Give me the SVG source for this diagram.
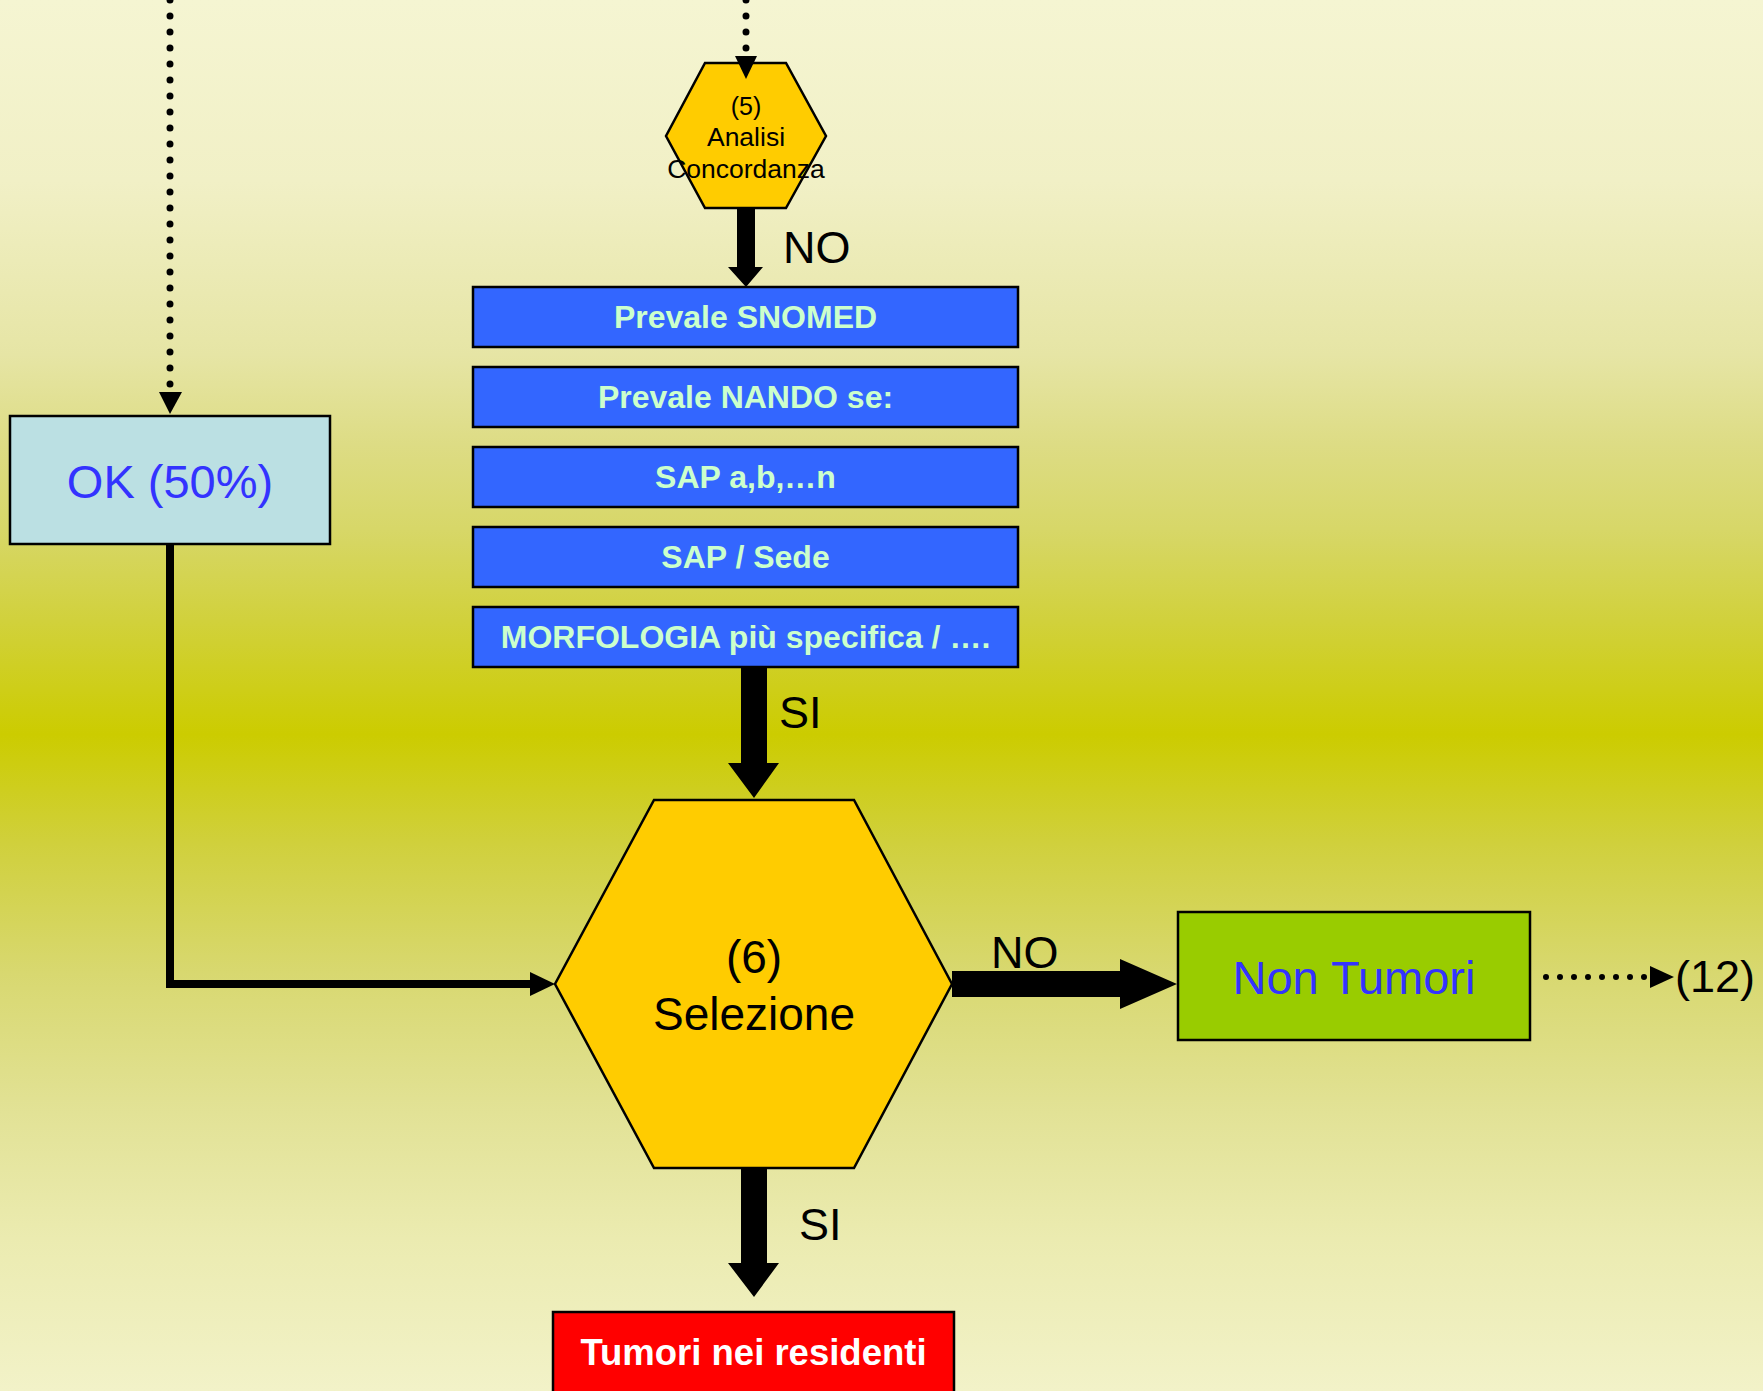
<svg xmlns="http://www.w3.org/2000/svg" width="1763" height="1391" viewBox="0 0 1763 1391">
<defs>
<linearGradient id="bg" x1="0" y1="0" x2="0" y2="1">
<stop offset="0" stop-color="#f5f5d2"/>
<stop offset="0.13" stop-color="#f1f0c6"/>
<stop offset="0.255" stop-color="#e6e5a5"/>
<stop offset="0.32" stop-color="#dddc84"/>
<stop offset="0.38" stop-color="#d7d768"/>
<stop offset="0.446" stop-color="#d1d13c"/>
<stop offset="0.528" stop-color="#cccc00"/>
<stop offset="0.606" stop-color="#d0d03c"/>
<stop offset="0.70" stop-color="#d8d870"/>
<stop offset="0.80" stop-color="#e2e296"/>
<stop offset="0.89" stop-color="#ebebb0"/>
<stop offset="1" stop-color="#f2f2c8"/>
</linearGradient>
<style>
.sans{font-family:"Liberation Sans",Arial,sans-serif}
.blue rect{fill:#3366ff;stroke:#000;stroke-width:2.5}
.blue text{fill:#ccffcc;font-size:32px;font-weight:bold;text-anchor:middle}
.hex{fill:#ffcc00;stroke:#000;stroke-width:2.5}
.lbl{fill:#000;font-size:45px}
.dots{fill:none;stroke:#000;stroke-linecap:round}
.arr{fill:#000}
</style>
</defs>
<rect x="0" y="0" width="1763" height="1391" fill="url(#bg)"/>

<g id="node-analisi" class="sans">
<polygon class="hex" points="705,63 786,63 826,136 786,208 705,208 666,136"/>
<text x="746" y="115" font-size="25" text-anchor="middle">(5)</text>
<text x="746" y="146" font-size="26.5" text-anchor="middle">Analisi</text>
<text x="746" y="178" font-size="26.5" text-anchor="middle">Concordanza</text>
</g>

<g id="node-snomed" class="blue sans"><rect x="473" y="287" width="545" height="60"/><text x="745.5" y="328">Prevale SNOMED</text></g>
<g id="node-nando" class="blue sans"><rect x="473" y="367" width="545" height="60"/><text x="745.5" y="408">Prevale NANDO se:</text></g>
<g id="node-sap" class="blue sans"><rect x="473" y="447" width="545" height="60"/><text x="745.5" y="488">SAP a,b,…n</text></g>
<g id="node-sede" class="blue sans"><rect x="473" y="527" width="545" height="60"/><text x="745.5" y="568">SAP / Sede</text></g>
<g id="node-morfologia" class="blue sans"><rect x="473" y="607" width="545" height="60"/><text x="745.5" y="648">MORFOLOGIA più specifica / ….</text></g>

<g id="node-ok" class="sans">
<rect x="10" y="416" width="320" height="128" fill="#bbe0e3" stroke="#000" stroke-width="2.5"/>
<text x="170" y="498" font-size="47" fill="#3333ff" text-anchor="middle">OK (50%)</text>
</g>

<g id="node-selezione" class="sans">
<polygon class="hex" points="654,800 854,800 952,984 854,1168 654,1168 555,984"/>
<text x="754" y="973" font-size="46" text-anchor="middle">(6)</text>
<text x="754" y="1030" font-size="46" text-anchor="middle">Selezione</text>
</g>

<g id="node-nontumori" class="sans">
<rect x="1178" y="912" width="352" height="128" fill="#99cc00" stroke="#000" stroke-width="2.5"/>
<text x="1354" y="994" font-size="47" fill="#3333ff" text-anchor="middle">Non Tumori</text>
</g>

<g id="node-tumori" class="sans">
<rect x="553" y="1312" width="401" height="95" fill="#ff0000" stroke="#000" stroke-width="2.5"/>
<text x="753.5" y="1365" font-size="36.5" font-weight="bold" fill="#ffffff" text-anchor="middle">Tumori nei residenti</text>
</g>

<g id="connectors">
<path class="dots" d="M746 48 L746 -20" stroke-width="7" stroke-dasharray="0 16"/>
<polygon class="arr" points="735,56 757,56 746,79"/>
<path class="dots" d="M170 384 L170 -20" stroke-width="7" stroke-dasharray="0 16"/>
<polygon class="arr" points="159,392 182,392 170,414"/>
<polygon class="arr" points="737,208 755,208 755,267 763,267 746,287 728,267 737,267"/>
<polygon class="arr" points="741,667 767,667 767,763 779,763 754,798 728,763 741,763"/>
<path d="M170 544 L170 984 L532 984" fill="none" stroke="#000" stroke-width="8"/>
<polygon class="arr" points="530,972 555,984 530,996"/>
<polygon class="arr" points="952,971 1120,971 1120,959 1177,984 1120,1009 1120,997 952,997"/>
<polygon class="arr" points="741,1168 767,1168 767,1263 779,1263 754,1297 728,1263 741,1263"/>
<path class="dots" d="M1546 977 L1646 977" stroke-width="6" stroke-dasharray="0 14"/>
<polygon class="arr" points="1650,966 1674,977 1650,988"/>
</g>

<g id="labels" class="sans">
<text class="lbl" x="783" y="263" font-size="44">NO</text>
<text class="lbl" x="779" y="728">SI</text>
<text class="lbl" x="991" y="968">NO</text>
<text class="lbl" x="799" y="1240">SI</text>
<text class="lbl" x="1675" y="992" font-size="46">(12)</text>
</g>
</svg>
